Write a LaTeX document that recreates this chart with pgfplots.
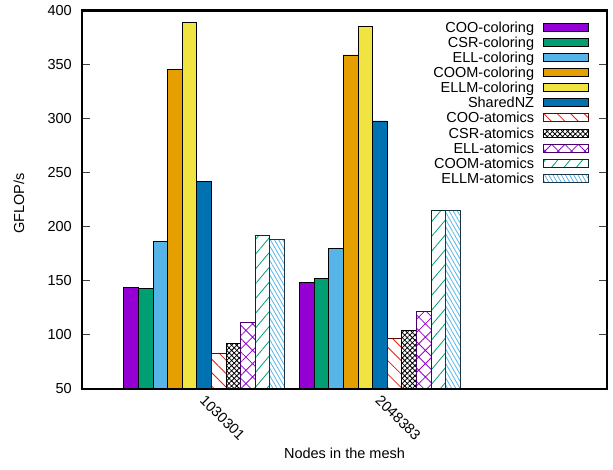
\documentclass[border=0pt]{standalone}
\usepackage{fontspec}
\setmainfont{Liberation Sans}
\usepackage{pgfplots}
\pgfplotsset{compat=1.18}
\usetikzlibrary{patterns.meta}

\definecolor{cpurple}{HTML}{9400D3}
\definecolor{cgreen}{HTML}{009E73}
\definecolor{clblue}{HTML}{56B4E9}
\definecolor{corange}{HTML}{E69F00}
\definecolor{cyellow}{HTML}{F0E442}
\definecolor{cblue}{HTML}{0072B2}
\definecolor{cred}{HTML}{E51E10}

\begin{document}
\begin{tikzpicture}[font=\fontsize{14.5}{15}\selectfont]
\useasboundingbox (-82pt,-81pt) rectangle (531pt,389pt);
\begin{axis}[
  scale only axis, width=525pt, height=378.7pt,
  xmin=-0.6955, xmax=2.2925, ymin=50, ymax=400,
  ytick={50,100,...,400},
  xtick={0,1}, xticklabels={1030301,2048383},
  xtick style={draw=none},
  ytick style={line width=1.2pt, black!75},
  tick align=inside, major tick length=8pt,
  /pgf/number format/assume math mode=true,
  axis line style={line width=2.5pt},
  axis on top,
  ybar=0pt, bar width=14.6pt,
  yticklabel style={anchor=east, inner sep=0pt, xshift=-10pt},
  xticklabel style={xshift=2pt, yshift=3pt, rotate=-45, anchor=north west, inner sep=0pt},
  every axis y label/.style={at={(axis description cs:-0.12,0.49)}, rotate=90, anchor=center},
  every axis x label/.style={at={(axis description cs:0.5,-0.1848)}, anchor=base},
  ylabel={GFLOP/s},
  xlabel={Nodes in the mesh},
  legend plot pos=right,
  legend cell align=right,
  legend image code/.code={\draw[#1] (0pt,-4pt) rectangle (45pt,4pt);},
  legend style={at={(axis description cs:0.9657,0.975)}, anchor=north east,
    draw=none, fill=none, inner sep=0pt, outer sep=0pt, row sep=0pt, column sep=9pt,
    nodes={inner sep=0pt, text height=12.55pt, text depth=2.55pt}},
]
% solid bars: colouring variants and SharedNZ
\addplot[fill=cpurple, draw=black, line width=0.9pt] coordinates {(0,144.0) (1,148.6)};
\addlegendentry{COO-coloring}
\addplot[fill=cgreen, draw=black, line width=0.9pt] coordinates {(0,143.1) (1,152.3)};
\addlegendentry{CSR-coloring}
\addplot[fill=clblue, draw=black, line width=0.9pt] coordinates {(0,186.1) (1,180.0)};
\addlegendentry{ELL-coloring}
\addplot[fill=corange, draw=black, line width=0.9pt] coordinates {(0,345.7) (1,358.7)};
\addlegendentry{COOM-coloring}
\addplot[fill=cyellow, draw=black, line width=0.9pt] coordinates {(0,389.2) (1,384.8)};
\addlegendentry{ELLM-coloring}
\addplot[fill=cblue, draw=black, line width=0.9pt] coordinates {(0,242.2) (1,297.7)};
\addlegendentry{SharedNZ}
% hatched bars: atomics variants
\addplot[draw=cred!40!black, line width=0.9pt, pattern={Lines[angle=-45,distance=9.5pt,line width=0.8pt]}, pattern color=cred] coordinates {(0,83.3) (1,96.5)};
\addlegendentry{COO-atomics}
\addplot[draw=black, line width=0.9pt, pattern={Hatch[angle=45,distance=3.6pt,line width=0.8pt]}, pattern color=black] coordinates {(0,92.2) (1,103.9)};
\addlegendentry{CSR-atomics}
\addplot[draw=cpurple!50!black, line width=0.9pt, pattern={Hatch[angle=45,distance=9.4pt,line width=0.8pt]}, pattern color=cpurple] coordinates {(0,111.9) (1,121.8)};
\addlegendentry{ELL-atomics}
\addplot[draw=cgreen!30!black, line width=0.9pt, pattern={Lines[angle=50,distance=9.5pt,line width=0.8pt]}, pattern color=cgreen] coordinates {(0,192.0) (1,214.8)};
\addlegendentry{COOM-atomics}
\addplot[draw=clblue!30!black, line width=0.9pt, pattern={Lines[angle=-60,distance=3.6pt,line width=0.8pt]}, pattern color=clblue] coordinates {(0,188.0) (1,214.8)};
\addlegendentry{ELLM-atomics}
\end{axis}
\end{tikzpicture}
\end{document}
